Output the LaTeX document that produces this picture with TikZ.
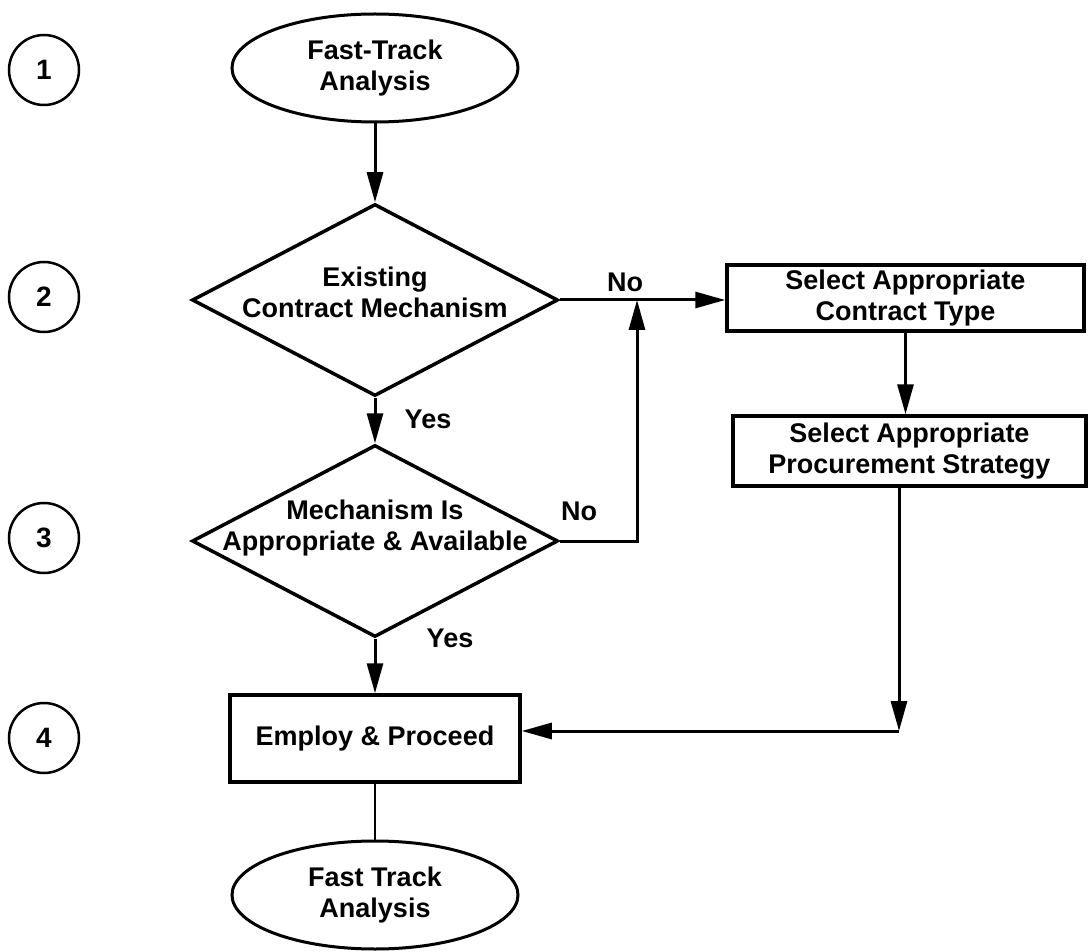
\documentclass[tikz,border=0pt]{standalone}
\usepackage{fontspec}
\setmainfont{Liberation Sans}
\usetikzlibrary{shapes.geometric,arrows.meta}
\begin{document}
\begin{tikzpicture}[x=1pt,y=-1pt,
  lbl/.style={font=\bfseries\fontsize{27}{31}\selectfont, align=center, inner sep=0pt},
  tag/.style={font=\bfseries\fontsize{27}{31}\selectfont, inner sep=0pt},
  numcirc/.style={circle, draw, line width=2.5pt, minimum size=70pt, inner sep=0pt,
    font=\bfseries\fontsize{28}{30}\selectfont},
  terminal/.style={ellipse, draw, line width=3pt, minimum width=286pt, minimum height=108pt, lbl},
  decision/.style={diamond, draw, line width=3.5pt, minimum width=366pt, minimum height=192pt, inner sep=0pt},
  procbox/.style={rectangle, draw, line width=3.5pt, lbl},
  flow/.style={line width=3pt, -{Triangle[length=30pt,width=16pt]}},
  plain/.style={line width=2.5pt}
]
\useasboundingbox (0,0) rectangle (1088,952);

% step numbers
\node[numcirc] (c1) at (44,70) {1};
\node[numcirc] (c2) at (44,297) {2};
\node[numcirc] (c3) at (44,538) {3};
\node[numcirc] (c4) at (44,738) {4};

% flow elements
\node[terminal] (start) at (375,68) {Fast-Track\\Analysis};
\node[decision] (d1) at (375,300) {};
\node[lbl] (d1t) at (375,292) {Existing\\Contract Mechanism};
\node[decision] (d2) at (375,541) {};
\node[lbl] (d2t) at (375,528) {Mechanism Is\\Appropriate \& Available};
\node[procbox, minimum width=357pt, minimum height=66pt] (r1) at (905.5,298) {Select Appropriate\\Contract Type};
\node[procbox, minimum width=353pt, minimum height=70pt] (r2) at (909.5,451) {Select Appropriate\\Procurement Strategy};
\node[procbox, minimum width=290pt, minimum height=87pt] (r3) at (375,738.5) {Employ \& Proceed};
\node[terminal] (end) at (375,895) {Fast Track\\Analysis};

% branch labels
\node[tag] (no1) at (625,282) {No};
\node[tag] (no2) at (579,511) {No};
\node[tag] (yes1) at (428,419) {Yes};
\node[tag] (yes2) at (450,638) {Yes};

% connectors
\coordinate (j) at (637,541);
\coordinate (k) at (899,731);
\draw[flow] (start.south) -- (d1.north);
\draw[flow] (d1.east) -- (d1.east -| r1.west);
\draw[flow] (d1.south) -- (d2.north);
\draw[flow] (d2.east) -- (j) -- (j |- d1.east);
\draw[flow] (r1.south) -- (r1.south |- r2.north);
\draw[flow] (k |- r2.south) -- (k);
\draw[flow] (k) -- (k -| r3.east);
\draw[flow] (d2.south) -- (r3.north);
\draw[plain] (r3.south) -- (end.north);
\end{tikzpicture}
\end{document}
